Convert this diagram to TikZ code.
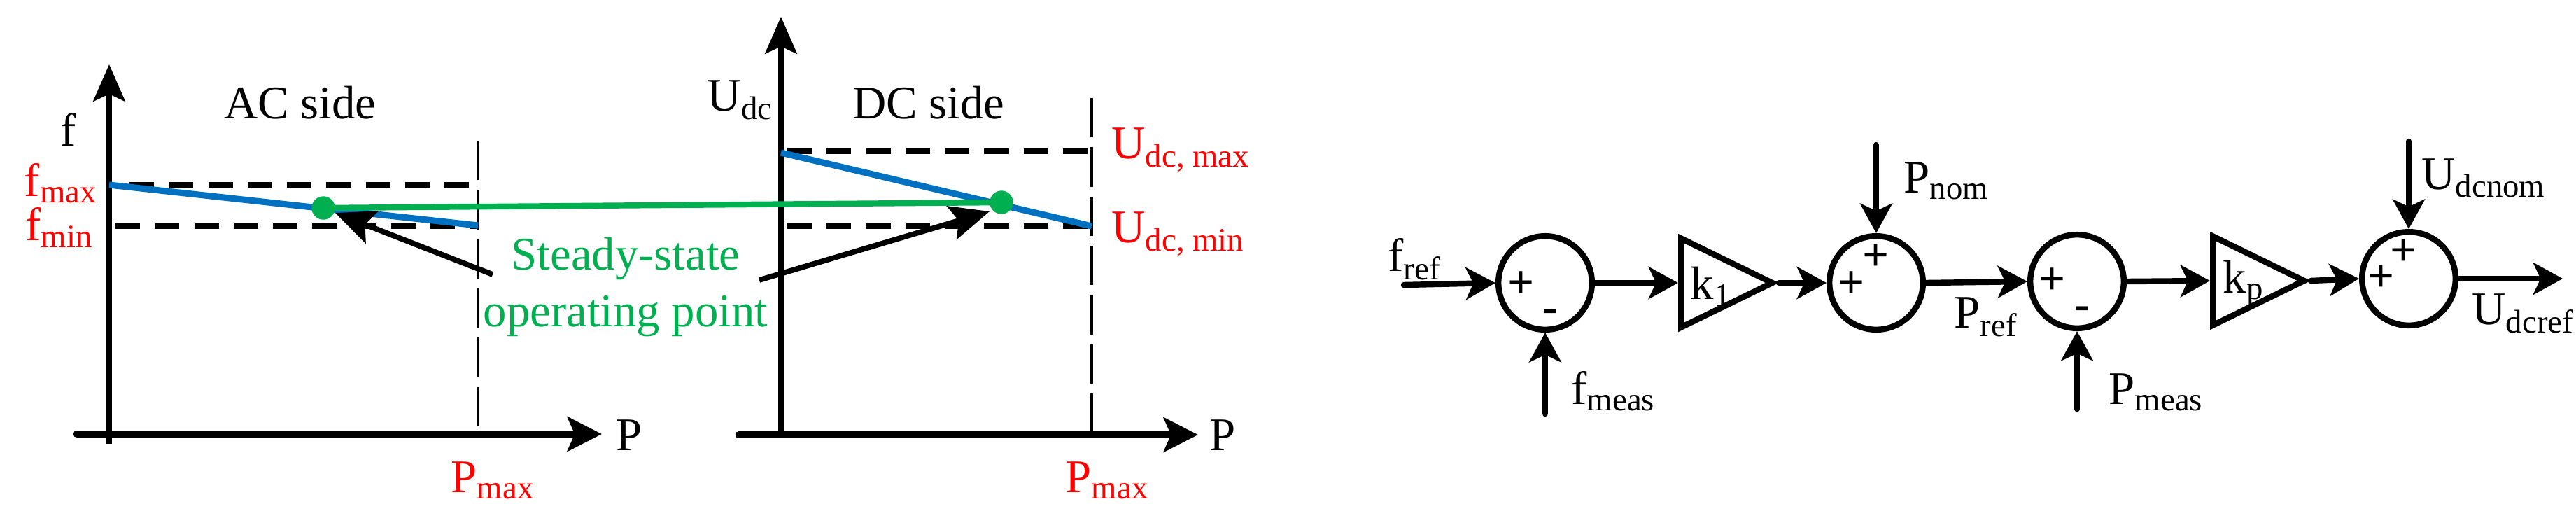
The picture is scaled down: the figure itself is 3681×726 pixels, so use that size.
\documentclass[tikz,border=0pt]{standalone}
\usepackage{fontspec}
\setmainfont{Liberation Serif}
\usetikzlibrary{arrows.meta,shapes.geometric}
\definecolor{myred}{RGB}{255,0,0}
\definecolor{mygreen}{RGB}{0,176,80}
\definecolor{myblue}{RGB}{0,112,192}
\newcommand{\sbs}[1]{\textsubscript{#1}}
\begin{document}
\begin{tikzpicture}[x=0.01cm,y=-0.01cm,
  txt/.style={font=\fontsize{19}{21}\selectfont,inner sep=0pt},
  rtxt/.style={txt,text=myred},
  axis/.style={line width=2pt,-{Stealth[length=15pt,width=13pt,inset=3pt]}},
  xaxis/.style={line width=3pt,line cap=round,-{Stealth[length=14pt,width=14pt,inset=3pt]}},
  hdash/.style={line width=2.2pt,dash pattern=on 10pt off 6pt},
  vdash/.style={line width=1.2pt,dash pattern=on 16pt off 4pt},
  droop/.style={myblue,line width=2.6pt},
  sig/.style={line width=2.4pt,line cap=round,-{Stealth[length=12pt,width=13pt,inset=3pt]}},
  sumnode/.style={circle,draw,line width=2.4pt,minimum size=38pt,inner sep=0pt},
  gain/.style={isosceles triangle,draw,line width=2.4pt,isosceles triangle apex angle=52,minimum height=37pt,inner sep=0pt,anchor=west},
  sgn/.style={font=\fontsize{19}{21}\selectfont\bfseries,inner sep=0pt},
  dot/.style={circle,fill=mygreen,minimum size=9.5pt,inner sep=0pt}]
\useasboundingbox (0,0) rectangle (3681,726);
% ---------- AC chart
\coordinate (ax0) at (156,634); \coordinate (ax1) at (156,92);
\coordinate (xx0) at (110,620); \coordinate (xx1) at (860,620);
\draw[axis] (ax0) -- (ax1);
\draw[xaxis] (xx0) -- (xx1);
\node[txt,anchor=west] (P1) at (880,622) {P};
\node[txt] (fl) at (98,185) {f};
\node[txt] (acs) at (429,147) {AC side};
\coordinate (pm1a) at (683,201); \coordinate (pm1b) at (683,618);
\draw[vdash] (pm1a) -- (pm1b);
\coordinate (fmaxa) at (185,264); \coordinate (fmaxb) at (683,264);
\coordinate (fmina) at (165,323); \coordinate (fminb) at (683,323);
\draw[hdash] (fmaxa) -- (fmaxb);
\draw[hdash] (fmina) -- (fminb);
\node[rtxt,anchor=east] (fmax) at (140,262) {f\sbs{max}};
\node[rtxt,anchor=east] (fmin) at (134,325) {f\sbs{min}};
\node[rtxt,anchor=west] (pmx1) at (644,686) {P\sbs{max}};
\coordinate (bl1a) at (156,264); \coordinate (bl1b) at (683,322);
\draw[droop] (bl1a) -- (bl1b);
% ---------- DC chart
\coordinate (ay0) at (1116,615); \coordinate (ay1) at (1116,24);
\coordinate (xy0) at (1056,621); \coordinate (xy1) at (1712,621);
\draw[axis] (ay0) -- (ay1);
\draw[xaxis] (xy0) -- (xy1);
\node[txt,anchor=west] (P2) at (1728,622) {P};
\node[txt] (udl) at (1058,143) {U\sbs{dc}};
\node[txt] (dcs) at (1327,147) {DC side};
\coordinate (pm2a) at (1560,140); \coordinate (pm2b) at (1560,618);
\draw[vdash] (pm2a) -- (pm2b);
\coordinate (umaxa) at (1125,216); \coordinate (umaxb) at (1560,216);
\coordinate (umina) at (1125,323); \coordinate (uminb) at (1560,323);
\draw[hdash] (umaxa) -- (umaxb);
\draw[hdash] (umina) -- (uminb);
\node[rtxt,anchor=west] (umax) at (1588,214) {U\sbs{dc, max}};
\node[rtxt,anchor=west] (umin) at (1588,334) {U\sbs{dc, min}};
\node[rtxt,anchor=west] (pmx2) at (1522,686) {P\sbs{max}};
\coordinate (bl2a) at (1116,218); \coordinate (bl2b) at (1560,323);
\draw[droop] (bl2a) -- (bl2b);
% ---------- operating points
\node[dot] (op1) at (462,297) {};
\node[dot] (op2) at (1431,289) {};
\draw[mygreen,line width=2.4pt] (op1.center) -- (op2.center);
\node[txt,text=mygreen,align=center,font=\fontsize{19}{23}\selectfont] (sso) at (894,410) {Steady-state\\operating point};
\coordinate (a1s) at (704,392); \coordinate (a2s) at (1085,400);
\draw[line width=2.2pt,-{Stealth[length=16pt,width=14pt,inset=3pt]}] (a1s) -- (479,304);
\draw[line width=2.2pt,-{Stealth[length=16pt,width=14pt,inset=3pt]}] (a2s) -- (1414,302);
% ---------- block diagram
\node[sumnode] (s1) at (2208,404) {};
\node[gain] (g1) at (2398,404) {};
\node[sumnode] (s2) at (2681,404) {};
\node[sumnode] (s3) at (2968,402) {};
\node[gain] (g2) at (3158,401) {};
\node[sumnode] (s4) at (3442,398) {};
\node[txt] (k1) at (2445,409) {k\sbs{1}};
\node[txt] (kp) at (3206,405) {k\sbs{p}};
\node[sgn] at (2174,407) {+};
\node[sgn] at (2216,451) {-};
\node[sgn] at (2646,407) {+};
\node[sgn] at (2681,368) {+};
\node[sgn] at (2933,402) {+};
\node[sgn] at (2976,447) {-};
\node[sgn] at (3402,398) {+};
\node[sgn] at (3434,361) {+};
\coordinate (fin) at (2006,407);
\coordinate (fmin0) at (2208,591);
\coordinate (pnom0) at (2681,207);
\coordinate (pmeas0) at (2968,584);
\coordinate (udn0) at (3442,202);
\coordinate (uout) at (3662,398);
\draw[sig] (fin) -- (s1.west);
\draw[sig] (fmin0) -- (s1.south);
\draw[sig] (s1.east) -- (g1.west);
\draw[sig] (g1.apex) -- (s2.west);
\draw[sig] (pnom0) -- (s2.north);
\draw[sig] (s2.east) -- (s3.west);
\draw[sig] (pmeas0) -- (s3.south);
\draw[sig] (s3.east) -- (g2.west);
\draw[sig] (g2.apex) -- (s4.west);
\draw[sig] (udn0) -- (s4.north);
\draw[sig] (s4.east) -- (uout);
\node[txt,anchor=base west] (lfref) at (1983,387) {f\sbs{ref}};
\node[txt,anchor=base west] (lfmeas) at (2245,577) {f\sbs{meas}};
\node[txt,anchor=base west] (lpnom) at (2720,275) {P\sbs{nom}};
\node[txt,anchor=base west] (lpref) at (2792,468) {P\sbs{ref}};
\node[txt,anchor=base west] (lpmeas) at (3013,577) {P\sbs{meas}};
\node[txt,anchor=base west] (ludn) at (3460,270) {U\sbs{dcnom}};
\node[txt,anchor=base west] (ludr) at (3532,463) {U\sbs{dcref}};
\end{tikzpicture}
\end{document}
